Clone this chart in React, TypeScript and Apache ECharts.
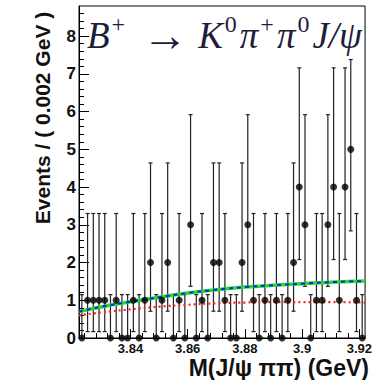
import React, { useEffect, useRef } from "react";
import * as echarts from "echarts";

// Histogram: M(J/psi pi pi), 50 bins of 0.002 GeV from 3.822 to 3.922
const binLow = 3.822;
const binWidth = 0.002;
const counts = [
  0, 1, 1, 1, 1, 0, 1, 0, 0, 1,
  0, 1, 2, 0, 1, 2, 0, 1, 0, 3,
  0, 1, 0, 2, 2, 1, 0, 0, 2, 3,
  1, 0, 1, 0, 1, 0, 1, 2, 4, 3,
  0, 1, 1, 3, 4, 1, 4, 5, 1, 0,
];
// Poisson error-bar ends, indexed by count (as drawn in the reference)
const errLowEnd = [0, 0.17, 0.71, 1.37, 2.08, 2.84];
const errHighEnd = [1.15, 3.3, 4.64, 5.92, 7.16, 7.38];

// Fit curves
const curveX = [3.822, 3.83, 3.84, 3.85, 3.86, 3.87, 3.88, 3.89, 3.9, 3.91, 3.922];
const totalFit = [0.7, 0.83, 0.96, 1.08, 1.19, 1.28, 1.35, 1.4, 1.44, 1.48, 1.51];
const bkgFit = [0.6, 0.68, 0.76, 0.83, 0.88, 0.92, 0.94, 0.95, 0.95, 0.95, 0.94];

const xLabels = [3.84, 3.86, 3.88, 3.9, 3.92];
const xMinorTicks = [
  3.824, 3.828, 3.832, 3.836, 3.844, 3.848, 3.852, 3.856, 3.864, 3.868, 3.872, 3.876,
  3.884, 3.888, 3.892, 3.896, 3.904, 3.908, 3.912, 3.916,
];
const yLabels = [0, 1, 2, 3, 4, 5, 6, 7, 8];
const yMinorTicks = [
  0.2, 0.4, 0.6, 0.8, 1.2, 1.4, 1.6, 1.8, 2.2, 2.4, 2.6, 2.8, 3.2, 3.4, 3.6, 3.8,
  4.2, 4.4, 4.6, 4.8, 5.2, 5.4, 5.6, 5.8, 6.2, 6.4, 6.6, 6.8, 7.2, 7.4, 7.6, 7.8,
  8.2, 8.4, 8.6,
];

const xTitle = "M(J/ψ ππ) (GeV)";
const yTitle = "Events / ( 0.002 GeV )";

export default function App() {
  const ref = useRef<HTMLDivElement>(null);
  useEffect(() => {
    if (!ref.current) return;
    const chart = echarts.init(ref.current, null, { renderer: "svg" });
    const centers = counts.map((_, i) => +(binLow + binWidth * (i + 0.5)).toFixed(4));
    const pts = counts.map((n, i) => [centers[i], n]);
    const errs = counts.map((n, i) => [centers[i], n, errLowEnd[n], errHighEnd[n]]);
    const font = "'Liberation Sans', Arial, sans-serif";
    const serif = "'Liberation Serif', 'DejaVu Serif', serif";
    const titleColor = "#1e1e3c";
    chart.setOption({
      animation: false,
      grid: {
        left: 79,
        top: 6,
        width: 292,
        height: 332,
        show: true,
        borderColor: "#000",
        borderWidth: 1,
        backgroundColor: "transparent",
      },
      xAxis: [
        {
          type: "value",
          min: 3.822,
          max: 3.922,
          axisLine: { show: true, onZero: false, lineStyle: { color: "#000", width: 1 } },
          axisTick: { show: true, inside: true, length: 9, customValues: xLabels, lineStyle: { color: "#000" } },
          axisLabel: {
            show: true,
            customValues: xLabels,
            formatter: (v: number) => String(+v.toFixed(2)),
            fontFamily: font,
            fontWeight: "bold",
            fontSize: 13,
            lineHeight: 13,
            color: "#111",
            margin: 4,
          },
          splitLine: { show: false },
        },
        {
          type: "value",
          min: 3.822,
          max: 3.922,
          position: "bottom",
          axisLine: { show: false, onZero: false },
          axisTick: { show: true, inside: true, length: 5, customValues: xMinorTicks, lineStyle: { color: "#000" } },
          axisLabel: { show: false },
          splitLine: { show: false },
        },
      ],
      yAxis: [
        {
          type: "value",
          min: 0,
          max: 8.8,
          axisLine: { show: true, onZero: false, lineStyle: { color: "#000", width: 1 } },
          axisTick: { show: true, inside: true, length: 10, customValues: yLabels, lineStyle: { color: "#000" } },
          axisLabel: {
            show: true,
            customValues: yLabels,
            fontFamily: font,
            fontWeight: "bold",
            fontSize: 17,
            color: "#111",
            margin: 3,
          },
          splitLine: { show: false },
        },
        {
          type: "value",
          min: 0,
          max: 8.8,
          position: "left",
          axisLine: { show: false, onZero: false },
          axisTick: { show: true, inside: true, length: 5, customValues: yMinorTicks, lineStyle: { color: "#000" } },
          axisLabel: { show: false },
          splitLine: { show: false },
        },
      ],
      graphic: [
        {
          type: "text",
          left: 87,
          top: 12,
          z: 100,
          style: {
            text: "{i|B}{s|+}{n|→}{i|K}{s|0}{i|π}{s|+}{i|π}{s|0}{i|J/ψ}",
            rich: {
              i: { fontFamily: serif, fontStyle: "italic", fontSize: 37, fill: titleColor },
              n: { fontFamily: serif, fontSize: 46, fill: titleColor, padding: [0, 10, 0, 14] },
              s: { fontFamily: serif, fontSize: 24, fill: titleColor, verticalAlign: "top", padding: [0, 3, 12, 2] },
            },
          },
        },
        {
          type: "text",
          x: 369,
          y: 368,
          style: {
            text: xTitle,
            fontFamily: font,
            fontWeight: "bold",
            fontSize: 23,
            fill: "#111",
            textAlign: "right",
            textVerticalAlign: "middle",
          },
        },
        {
          type: "text",
          x: 42,
          y: 118,
          rotation: Math.PI / 2,
          style: {
            text: yTitle,
            fontFamily: font,
            fontWeight: "bold",
            fontSize: 21,
            fill: "#111",
            textAlign: "center",
            textVerticalAlign: "middle",
          },
        },
      ],
      series: [
        {
          type: "custom",
          xAxisIndex: 0,
          yAxisIndex: 0,
          data: errs,
          z: 2,
          renderItem: (params: any, api: any) => {
            const x = api.value(0);
            const lo = api.value(2);
            const hi = api.value(3);
            const p1 = api.coord([x, lo]);
            const p2 = api.coord([x, hi]);
            const stroke = { stroke: "#222", lineWidth: 1.2 };
            const children: any[] = [
              { type: "line", shape: { x1: p1[0], y1: p1[1], x2: p2[0], y2: p2[1] }, style: stroke },
              { type: "line", shape: { x1: p2[0] - 2, y1: p2[1], x2: p2[0] + 2, y2: p2[1] }, style: stroke },
            ];
            if (lo > 0) {
              children.push({ type: "line", shape: { x1: p1[0] - 2, y1: p1[1], x2: p1[0] + 2, y2: p1[1] }, style: stroke });
            }
            return { type: "group", children };
          },
        },
        {
          type: "line",
          data: curveX.map((x, i) => [x, totalFit[i]]),
          smooth: true,
          showSymbol: false,
          z: 3,
          lineStyle: { color: "#22dd22", width: 3.5 },
        },
        {
          type: "line",
          data: curveX.map((x, i) => [x, totalFit[i]]),
          smooth: true,
          showSymbol: false,
          z: 4,
          lineStyle: { color: "#1a1aff", width: 2, type: [4, 4] },
        },
        {
          type: "line",
          data: curveX.map((x, i) => [x, bkgFit[i]]),
          smooth: true,
          showSymbol: false,
          z: 4,
          lineStyle: { color: "#ff2222", width: 2.2, type: [2, 3] },
        },
        {
          type: "scatter",
          data: pts,
          symbol: "circle",
          symbolSize: 7,
          z: 5,
          itemStyle: { color: "#000" },
        },
      ],
    });
    return () => chart.dispose();
  }, []);
  return <div ref={ref} style={{ width: 375, height: 380, position: "absolute", left: 0, top: 0 }} />;
}
